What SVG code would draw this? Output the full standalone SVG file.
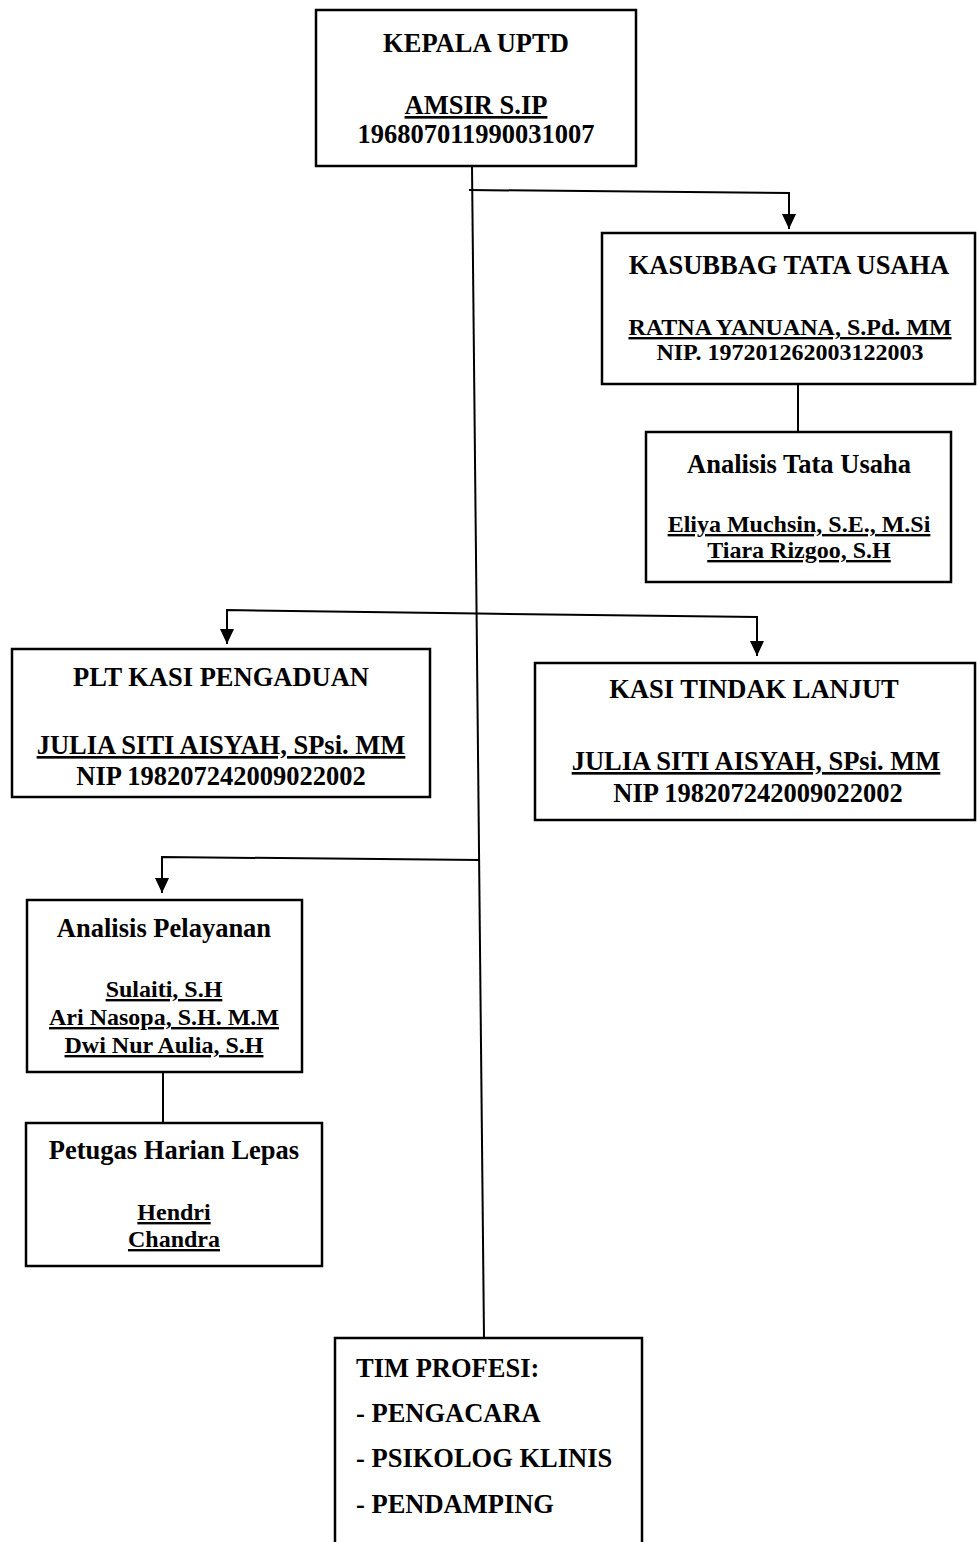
<svg xmlns="http://www.w3.org/2000/svg" width="977" height="1542" viewBox="0 0 977 1542">
<style>
.box{fill:#fff;stroke:#000;stroke-width:2.5}
.h{font-family:"Liberation Serif","Times New Roman",serif;font-weight:bold;font-size:26.5px;fill:#000;text-anchor:middle}
.n{font-family:"Liberation Serif","Times New Roman",serif;font-weight:bold;font-size:24px;fill:#000;text-anchor:middle}
.u{text-decoration:underline}
.l{text-anchor:start}
.c{fill:none;stroke:#000;stroke-width:2}
</style>
<defs>
<marker id="arrD" markerUnits="userSpaceOnUse" markerWidth="14" markerHeight="16" refX="7" refY="15" orient="0" viewBox="0 0 14 16">
<path d="M0,0 L14,0 L7,15 Z" fill="#000"/>
</marker>
</defs>
<rect width="977" height="1542" fill="#fff"/>
<g id="connectors">
<path class="c" d="M472,166 L484,1338"/>
<path class="c" d="M469,190 L789,193 L789,229" marker-end="url(#arrD)"/>
<path class="c" d="M798,384 L798,432"/>
<path class="c" d="M478,613.5 L227,610 L227,644" marker-end="url(#arrD)"/>
<path class="c" d="M478,613.5 L757,617 L757,656" marker-end="url(#arrD)"/>
<path class="c" d="M480,860 L162,857 L162,893" marker-end="url(#arrD)"/>
<path class="c" d="M163,1072 L163,1123"/>
</g>
<g id="kepala">
<rect class="box" x="316" y="10" width="320" height="156"/>
<text class="h" x="476" y="52">KEPALA UPTD</text>
<text class="h u" x="476" y="114">AMSIR S.IP</text>
<text class="h" x="476" y="143">196807011990031007</text>
</g>
<g id="kasubbag">
<rect class="box" x="602" y="233" width="373" height="151"/>
<text class="h" x="789" y="274">KASUBBAG TATA USAHA</text>
<text class="n u" x="790" y="335">RATNA YANUANA, S.Pd. MM</text>
<text class="n" x="790" y="360">NIP. 197201262003122003</text>
</g>
<g id="analisis-tu">
<rect class="box" x="646" y="432" width="305" height="150"/>
<text class="h" x="799" y="473">Analisis Tata Usaha</text>
<text class="n u" x="799" y="532">Eliya Muchsin, S.E., M.Si</text>
<text class="n u" x="799" y="558">Tiara Rizgoo, S.H</text>
</g>
<g id="plt-pengaduan">
<rect class="box" x="12" y="649" width="418" height="148"/>
<text class="h" x="221" y="686">PLT KASI PENGADUAN</text>
<text class="h u" x="221" y="754">JULIA SITI AISYAH, SPsi. MM</text>
<text class="h" x="221" y="785">NIP 198207242009022002</text>
</g>
<g id="kasi-tindak-lanjut">
<rect class="box" x="535" y="663" width="440" height="157"/>
<text class="h" x="754" y="698">KASI TINDAK LANJUT</text>
<text class="h u" x="756" y="770">JULIA SITI AISYAH, SPsi. MM</text>
<text class="h" x="758" y="802">NIP 198207242009022002</text>
</g>
<g id="analisis-pelayanan">
<rect class="box" x="27" y="900" width="275" height="172"/>
<text class="h" x="164" y="937">Analisis Pelayanan</text>
<text class="n u" x="164" y="997">Sulaiti, S.H</text>
<text class="n u" x="164" y="1025">Ari Nasopa, S.H. M.M</text>
<text class="n u" x="164" y="1053">Dwi Nur Aulia, S.H</text>
</g>
<g id="petugas">
<rect class="box" x="26" y="1123" width="296" height="143"/>
<text class="h" x="174" y="1159">Petugas Harian Lepas</text>
<text class="n u" x="174" y="1220">Hendri</text>
<text class="n u" x="174" y="1247">Chandra</text>
</g>
<g id="tim-profesi">
<rect class="box" x="335" y="1338" width="307" height="230"/>
<text class="h l" x="356" y="1377">TIM PROFESI:</text>
<text class="h l" x="356" y="1422">- PENGACARA</text>
<text class="h l" x="356" y="1467">- PSIKOLOG KLINIS</text>
<text class="h l" x="356" y="1513">- PENDAMPING</text>
</g>
</svg>
